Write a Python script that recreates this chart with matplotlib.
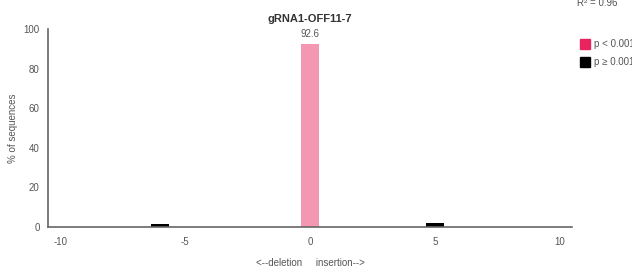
import matplotlib
matplotlib.use("Agg")
import matplotlib.pyplot as plt
from matplotlib.patches import Rectangle

plt.rcParams['font.family'] = ['Liberation Sans', 'DejaVu Sans']

positions = [-6, 0, 5]
values = [1.3, 92.6, 1.8]
significant = [False, True, False]
title = "gRNA1-OFF11-7"
r2_text = "R² = 0.96"
xticks = [-10, -5, 0, 5, 10]
xtick_labels = ["-10", "-5", "0", "5", "10"]
yticks = [0, 20, 40, 60, 80, 100]
legend_labels = ["p < 0.001", "p ≥ 0.001"]

bar_colors = ['#F497B3' if s else '#000000' for s in significant]

fig = plt.figure(figsize=(6.32, 2.69), dpi=100)
ax = fig.add_axes([0.076, 0.156, 0.829, 0.735])
ax.bar(positions, values, width=0.72, color=bar_colors)
ax.set_xlim(-10.5, 10.5)
ax.set_ylim(0, 100)
ax.set_xticks(xticks, xtick_labels)
ax.set_yticks(yticks)
ax.tick_params(length=0, labelsize=7, labelcolor='#555555')
ax.tick_params(axis='y', pad=6)
ax.tick_params(axis='x', pad=7)
for s in ['top', 'right']:
    ax.spines[s].set_visible(False)
for s in ['left', 'bottom']:
    ax.spines[s].set_color('#666666')
    ax.spines[s].set_linewidth(1.2)
ax.set_ylabel("% of sequences", fontsize=7, color='#555555', labelpad=4)
ax.set_xlabel("<--deletion     insertion-->", fontsize=7, color='#555555', labelpad=8)
ax.set_title(title, fontsize=8, fontweight='bold', color='#333333', pad=5)

for p, v, s in zip(positions, values, significant):
    if s:
        ax.text(p, v + 2.5, f"{v}", ha='center', va='bottom', fontsize=7, color='#555555')

fig.text(0.945, 0.99, r2_text, ha='center', va='center', fontsize=7, color='#555555')

leg_colors = ['#E8245E', '#000000']
for i, (lab, c) in enumerate(zip(legend_labels, leg_colors)):
    y = 1 - (44 + 18 * i) / 269
    fig.patches.append(Rectangle((580 / 632, y - 5 / 269), 10 / 632, 10 / 269,
                                 transform=fig.transFigure, color=c))
    fig.text(594 / 632, y, lab, ha='left', va='center', fontsize=7, color='#555555')

fig.savefig("out.png", dpi=100)
